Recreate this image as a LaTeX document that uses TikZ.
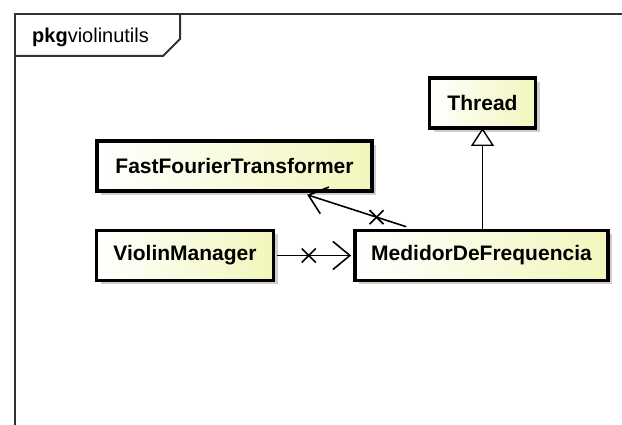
\documentclass[tikz,border=0pt]{standalone}
\usepackage{fontspec}
\setmainfont{Liberation Sans}
\usetikzlibrary{arrows.meta,shadows,calc}
\definecolor{clsyellow}{RGB}{242,246,188}
\definecolor{frameline}{RGB}{50,50,50}
\tikzset{
  cls/.style={draw=black, line width=3.6pt, left color=white, right color=clsyellow,
    minimum height=50pt, inner sep=0pt, font=\fontsize{21}{24}\selectfont\bfseries,
    drop shadow={shadow xshift=4pt, shadow yshift=-4pt, fill=black!35, opacity=0.55}},
  assoc/.style={line width=1.6pt, -{Straight Barb[length=17pt,width=28pt,line width=1.6pt]}},
  inherit/.style={line width=1.4pt, -{Triangle[open,length=18pt,width=23pt,line width=1.4pt]}},
  xmark/.style={line width=1.6pt}
}
\begin{document}
\begin{tikzpicture}[x=1pt,y=-1pt]
\useasboundingbox (0,0) rectangle (622,425);
\fill[white] (0,0) rectangle (622,425);

% package frame with its name tab
\draw[frameline, line width=2pt] (622,14) -- (15,14) -- (15,425);
\draw[frameline, line width=2pt] (15,56) -- (163,56) -- (180,39) -- (180,14);
\node[anchor=west, inner sep=0pt, font=\fontsize{20}{22}\selectfont] (pkg) at (32,37)
  {\textbf{pkg}violinutils};

% classes
\node[cls, minimum width=106pt] (thread) at (482.5,103) {Thread};
\node[cls, minimum width=275pt] (fft) at (234.5,166) {FastFourierTransformer};
\node[cls, minimum width=177pt] (vm) at (185,255.5) {ViolinManager};
\node[cls, minimum width=253pt] (med) at (481.5,255.5) {MedidorDeFrequencia};

% generalisation
\draw[inherit] ([yshift=-1.8pt]med.north -| thread.south) -- ([yshift=1.8pt]thread.south);

% navigable associations with non-navigable ends
\coordinate (fftend) at ($(fft.south west)+(212,2)$);
\coordinate (medstart) at ($(med.north west)+(53,-2)$);
\draw[assoc] (medstart) -- (fftend);
\path (medstart) -- (fftend) coordinate[pos=0.3] (x1);
\draw[xmark] ($(x1)+(-7,-7)$) -- ($(x1)+(7,7)$) ($(x1)+(-7,7)$) -- ($(x1)+(7,-7)$);

\draw[assoc] ([xshift=2pt]vm.east) -- ([xshift=-2pt]med.west);
\path (vm.east) -- (med.west) coordinate[pos=0.43] (x2);
\draw[xmark] ($(x2)+(-7,-7)$) -- ($(x2)+(7,7)$) ($(x2)+(-7,7)$) -- ($(x2)+(7,-7)$);
\end{tikzpicture}
\end{document}
